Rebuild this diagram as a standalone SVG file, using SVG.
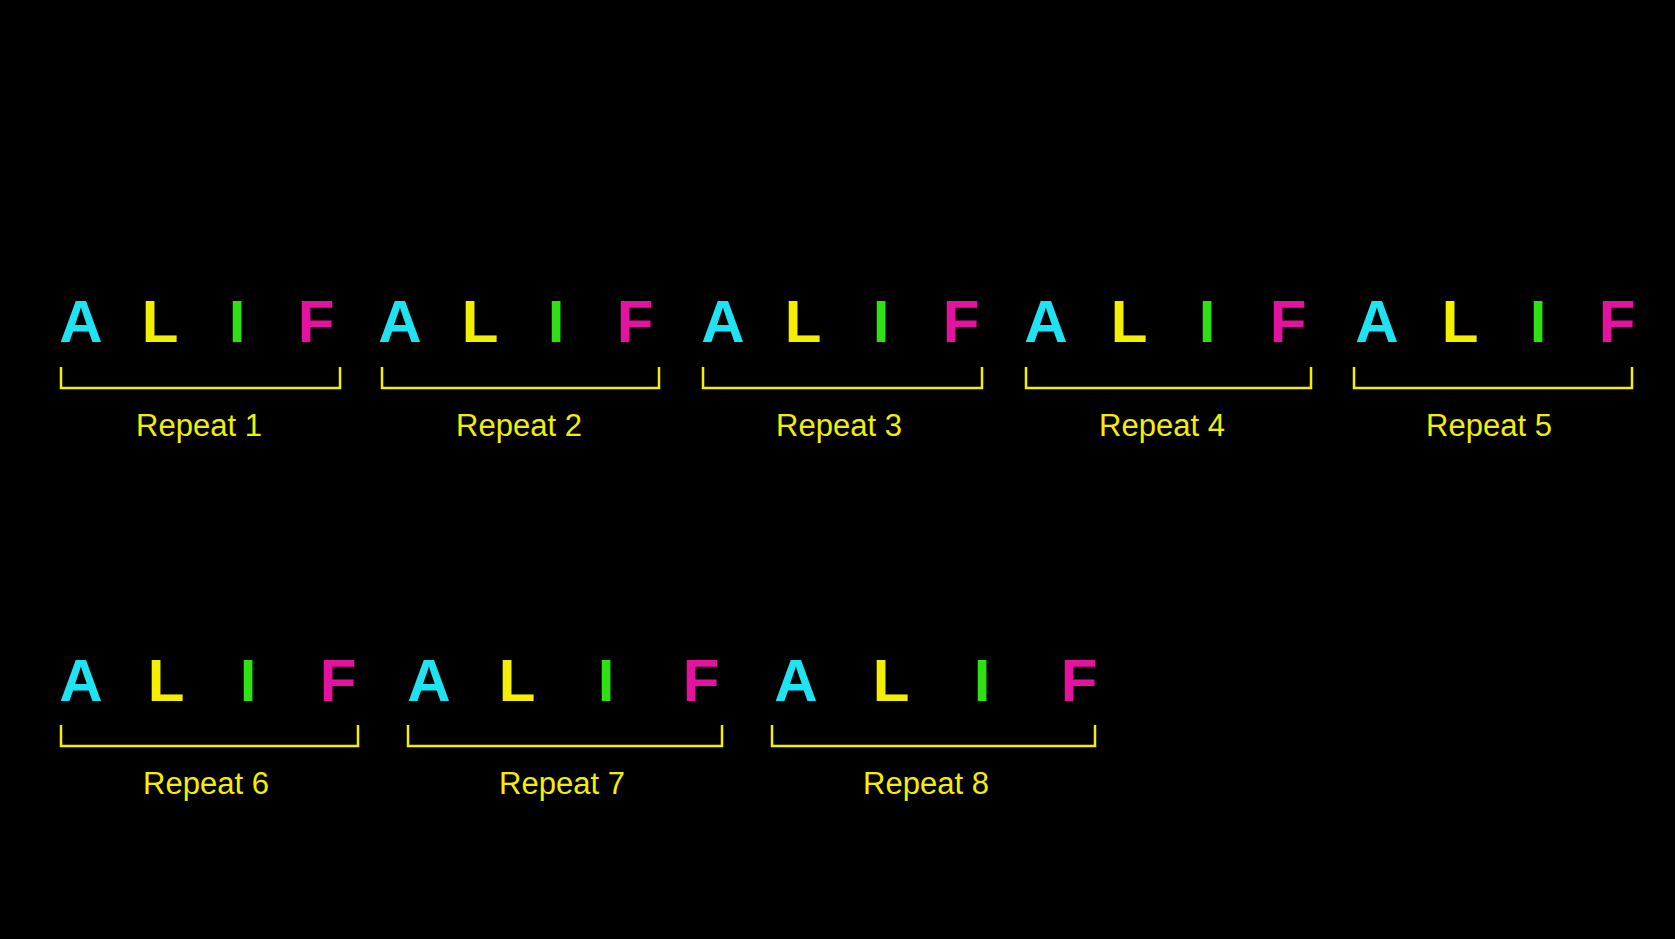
<svg xmlns="http://www.w3.org/2000/svg" width="1675" height="939" viewBox="0 0 1675 939">
<style>
.l{font-family:"Liberation Sans",Arial,sans-serif;font-weight:bold;font-size:60px;text-anchor:middle}
.a{fill:#1fe3f2}.y{fill:#f4ef00}.g{fill:#2ee014}.m{fill:#e3139f}
.t{font-family:"Liberation Sans",Arial,sans-serif;font-size:31px;fill:#f4ef00;text-anchor:middle}
.b{fill:none;stroke:#f4ef00;stroke-width:2.5}
</style>
<rect width="1675" height="939" fill="#000"/>
<g id="row1" class="l">
<text class="a" x="81" y="342">A</text><text class="y" x="160" y="342">L</text><text class="g" x="237" y="342">I</text><text class="m" x="316" y="342">F</text>
<text class="a" x="400" y="342">A</text><text class="y" x="480" y="342">L</text><text class="g" x="556" y="342">I</text><text class="m" x="635" y="342">F</text>
<text class="a" x="723" y="342">A</text><text class="y" x="803" y="342">L</text><text class="g" x="881" y="342">I</text><text class="m" x="961" y="342">F</text>
<text class="a" x="1046" y="342">A</text><text class="y" x="1129" y="342">L</text><text class="g" x="1207" y="342">I</text><text class="m" x="1288" y="342">F</text>
<text class="a" x="1377" y="342">A</text><text class="y" x="1460" y="342">L</text><text class="g" x="1538" y="342">I</text><text class="m" x="1617" y="342">F</text>
</g>
<g id="row2" class="l">
<text class="a" x="81" y="701">A</text><text class="y" x="166" y="701">L</text><text class="g" x="248" y="701">I</text><text class="m" x="338" y="701">F</text>
<text class="a" x="429" y="701">A</text><text class="y" x="517" y="701">L</text><text class="g" x="606" y="701">I</text><text class="m" x="701" y="701">F</text>
<text class="a" x="796" y="701">A</text><text class="y" x="891" y="701">L</text><text class="g" x="982" y="701">I</text><text class="m" x="1079" y="701">F</text>
</g>
<g id="brackets">
<path class="b" d="M61 367V388H340V367M382 367V388H659V367M703 367V388H982V367M1026 367V388H1311V367M1354 367V388H1632V367"/>
<path class="b" d="M61 725V746H358V725M408 725V746H722V725M772 725V746H1095V725"/>
</g>
<g id="labels" class="t">
<text x="199" y="436">Repeat 1</text><text x="519" y="436">Repeat 2</text><text x="839" y="436">Repeat 3</text><text x="1162" y="436">Repeat 4</text><text x="1489" y="436">Repeat 5</text>
<text x="206" y="794">Repeat 6</text><text x="562" y="794">Repeat 7</text><text x="926" y="794">Repeat 8</text>
</g>
</svg>
